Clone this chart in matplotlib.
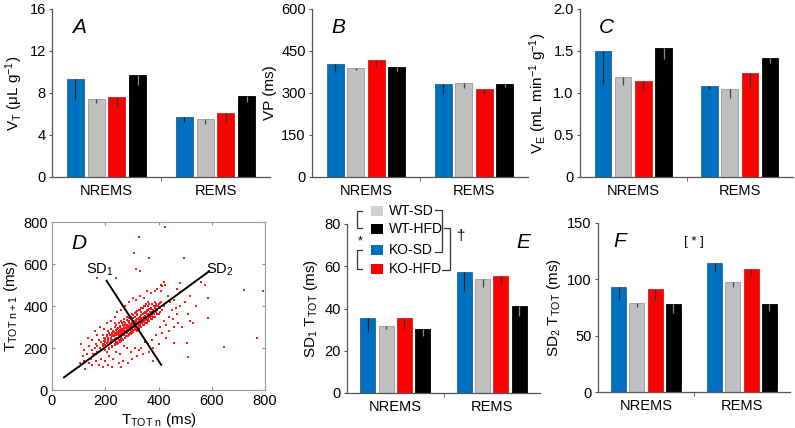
import matplotlib
matplotlib.use("Agg")
import matplotlib.pyplot as plt
from matplotlib.lines import Line2D
from matplotlib.patches import Rectangle

plt.rcParams['font.family'] = ['Liberation Sans', 'DejaVu Sans']
plt.rcParams['mathtext.fontset'] = 'custom'
plt.rcParams['mathtext.rm'] = 'Liberation Sans'
plt.rcParams['mathtext.it'] = 'Liberation Sans:italic'

# ---------------- data ----------------
states = ['NREMS', 'REMS']
groups = ['KO-SD', 'WT-SD', 'KO-HFD', 'WT-HFD']
group_colors = ['#0070C0', '#C0C0C0', '#FF0000', '#000000']
group_edges = ['#2a5f95', '#999999', '#cc2020', '#000000']
err_colors = ['#222222', '#444444', '#333333', '#888888']

# A: tidal volume (uL/g)
vt_nrems = [9.30, 7.46, 7.62, 9.71]
vt_rems = [5.68, 5.52, 6.06, 7.71]
vt_err_nrems = [1.90, 0.41, 0.82, 0.98]
vt_err_rems = [0.41, 0.44, 0.79, 0.54]

# B: VP (ms)
vp_nrems = [402, 389, 419, 392]
vp_rems = [331, 334, 315, 333]
vp_err_nrems = [28, 8, 27, 15]
vp_err_rems = [33, 15, 20, 12]

# C: minute ventilation (mL/min/g)
ve_nrems = [1.496, 1.19, 1.14, 1.53]
ve_rems = [1.087, 1.05, 1.24, 1.42]
ve_err_nrems = [0.39, 0.09, 0.12, 0.13]
ve_err_rems = [0.04, 0.11, 0.17, 0.06]

# E: SD1 Ttot (ms)
sd1_nrems = [35.3, 31.6, 35.3, 30.5]
sd1_rems = [57.1, 54.2, 55.2, 41.1]
sd1_err_nrems = [6.4, 1.1, 4.8, 3.6]
sd1_err_rems = [8.7, 4.2, 4.2, 4.7]

# F: SD2 Ttot (ms)
sd2_nrems = [93.0, 78.7, 91.8, 77.8]
sd2_rems = [114.3, 98.0, 109.0, 78.4]
sd2_err_nrems = [10.7, 3.0, 10.1, 8.0]
sd2_err_rems = [6.8, 4.4, 6.0, 6.5]

# D: Poincare plot points (Ttot n, Ttot n+1) in ms
poincare_x = [
    180, 185, 190, 195, 200, 200, 205, 210, 210, 215, 215, 220, 220, 220, 225, 225,
    230, 230, 235, 235, 240, 240, 240, 245, 245, 250, 250, 250, 255, 255, 260, 260, 260,
    265, 265, 270, 270, 270, 270,
    275, 275, 280, 280, 280, 280, 285, 285, 290, 290, 290, 295, 295, 300, 300, 300, 300,
    305, 305, 310, 310, 310, 315, 315, 320, 320, 320, 320,
    325, 325, 330, 330, 330, 335, 335, 340, 340, 340, 345, 345, 350, 350, 350, 355, 355,
    360, 360, 360, 365, 365, 370, 370, 370,
    375, 375, 380, 380, 385, 385, 390, 390, 395, 400, 400, 405, 410, 415, 420,
    150, 160, 165, 170, 175, 160, 170, 185, 190, 195, 205, 210, 200, 230, 235,
    245, 255, 265, 275, 285, 295, 305, 315, 325, 335, 345, 355, 365, 262, 278, 292, 308,
    322, 338, 352, 368, 382, 248, 258, 288, 298, 312, 328, 342, 358, 372, 392, 218, 228,
    190, 195, 200, 205, 210, 212, 218, 222, 228, 232, 238, 242, 248, 252, 258, 262, 268,
    272, 278, 282, 288, 292, 298, 302, 308, 312, 318, 322, 328, 332, 338, 342, 348, 352,
    358, 362, 368, 372, 378, 382, 388, 392, 398, 404,
    200, 208, 216, 224, 232, 240, 248, 256, 264, 272, 280, 288, 296, 304, 312, 320, 328,
    336, 344, 352, 360,
    215, 225, 235, 245, 255, 265, 275, 285, 295, 305, 315, 325, 335, 345, 355, 365, 375,
    385, 395, 405,
    240, 250, 260, 270, 280, 290, 300, 310, 320, 330, 340, 350, 360, 370, 380, 390, 260,
    275, 290, 305, 320, 335, 300, 315, 330, 345, 360, 375, 255, 245, 235, 225,
    100, 105, 110, 115, 120, 120, 125, 130, 135, 140, 140, 145, 150, 150, 155, 160, 165,
    170, 175, 180, 185, 190, 195, 200, 205, 210, 215, 220, 225, 230, 235, 240, 245, 250,
    255, 260, 265, 270, 275, 280, 285, 290, 295, 300, 305, 310, 315, 320, 325, 330, 335,
    340, 345, 350, 355, 360, 365, 370, 375, 380, 385, 390, 395, 400, 405, 410, 415, 420,
    425, 430, 435, 440, 445, 450, 455, 460, 465, 470, 475, 480, 490, 500, 510, 520, 440,
    460, 430,
    363, 426, 326, 309, 363, 497, 317, 332, 169, 240, 410, 420, 414, 558, 573, 722, 791,
    769, 587, 587, 646, 528, 506, 512, 458, 380, 260, 540, 520, 470, 480]
poincare_y = [
    200, 230, 210, 250, 190, 230, 260, 215, 240, 200, 270, 230, 250, 290, 210, 260,
    240, 280, 220, 300, 250, 270, 310, 230, 290, 260, 280, 320, 240, 300, 270, 250, 330,
    290, 310, 260, 280, 300, 340,
    250, 320, 270, 290, 310, 350, 280, 330, 260, 300, 320, 290, 340, 270, 300, 310, 360,
    280, 330, 290, 300, 350, 320, 370, 280, 300, 340, 360,
    310, 330, 300, 350, 380, 320, 340, 310, 360, 390, 330, 350, 320, 370, 400, 340, 380,
    330, 360, 400, 350, 410, 340, 370, 390,
    360, 410, 380, 350, 390, 420, 370, 400, 380, 410, 360, 390, 420, 380, 400,
    190, 200, 220, 180, 240, 170, 210, 190, 260, 220, 180, 280, 250, 260, 320,
    265, 275, 285, 295, 305, 315, 325, 335, 345, 355, 365, 375, 385, 242, 258, 272, 288,
    302, 318, 332, 348, 362, 225, 235, 268, 282, 292, 308, 322, 338, 352, 372, 225, 238,
    220, 235, 215, 225, 230, 250, 222, 240, 235, 255, 245, 262, 250, 270, 262, 280, 272,
    292, 282, 300, 292, 310, 302, 320, 312, 330, 322, 340, 332, 348, 342, 360, 352, 368,
    362, 380, 372, 388, 382, 398, 392, 410, 402, 415,
    240, 258, 262, 270, 278, 286, 294, 304, 318, 324, 334, 342, 350, 358, 366, 374, 382,
    392, 398, 410, 418,
    195, 205, 212, 218, 228, 240, 246, 258, 265, 275, 285, 292, 300, 310, 318, 328, 338,
    350, 362, 372,
    230, 240, 255, 265, 275, 285, 290, 305, 315, 325, 335, 345, 355, 365, 375, 385, 290,
    310, 330, 345, 355, 370, 280, 300, 310, 325, 340, 355, 285, 275, 265, 255,
    110, 130, 220, 160, 140, 190, 100, 170, 250, 130, 210, 150, 120, 240, 170, 280, 140,
    260, 120, 300, 150, 110, 290, 140, 320, 120, 160, 330, 110, 150, 350, 180, 370, 130,
    170, 380, 140, 210, 400, 200, 130, 420, 180, 150, 440, 200, 430, 160, 190, 450, 200,
    170, 440, 230, 470, 220, 180, 460, 240, 200, 470, 260, 480, 220, 300, 470, 270, 330,
    500, 310, 450, 350, 420, 380, 340, 430, 390, 360, 320, 400, 300, 420, 360, 330, 280,
    300, 250,
    800, 776, 728, 652, 627, 627, 578, 565, 533, 533, 500, 515, 493, 514, 501, 477, 473,
    249, 436, 344, 206, 317, 225, 159, 225, 140, 110, 400, 450, 480, 510]

sd2_line_x = [45, 590]
sd2_line_y = [60, 565]
sd1_line_x = [205, 410]
sd1_line_y = [520, 120]

# ---------------- plotting ----------------
W, H = 795, 428
fig = plt.figure(figsize=(W / 100, H / 100), dpi=100)

def fr(left, right, top, bottom):
    return [left / W, (H - bottom) / H, (right - left) / W, (bottom - top) / H]

spine_col = '#555555'
tick_fs = 10.5
lab_fs = 11

def bar_panel(rect, nrems, rems, err_n, err_r, ymax, yticks, yticklabels, ylabel, letter,
              letter_xy=(0.1, 0.9)):
    ax = fig.add_axes(rect)
    width = 0.155
    step = 0.19
    for i in range(4):
        xs = [1 + (i - 1.5) * step, 2 + (i - 1.5) * step]
        vals = [nrems[i], rems[i]]
        errs = [err_n[i], err_r[i]]
        ax.bar(xs, vals, width=width, color=group_colors[i], edgecolor=group_edges[i],
               linewidth=0.6, zorder=2)
        ax.errorbar(xs, vals, yerr=[errs, [0, 0]], fmt='none', ecolor=err_colors[i],
                    elinewidth=0.9, capsize=0, zorder=3)
    ax.set_xlim(0.5, 2.5)
    ax.set_ylim(0, ymax)
    ax.set_xticks([1, 2])
    ax.set_xticklabels(states, fontsize=tick_fs)
    ax.set_xticks([1.5], minor=True)
    ax.tick_params(axis='x', which='major', length=0, pad=5)
    ax.tick_params(axis='x', which='minor', length=3, color=spine_col)
    ax.set_yticks(yticks)
    ax.set_yticklabels(yticklabels, fontsize=tick_fs)
    ax.tick_params(axis='y', length=2.5, color=spine_col, pad=2)
    for s in ['top', 'right']:
        ax.spines[s].set_visible(False)
    for s in ['left', 'bottom']:
        ax.spines[s].set_color(spine_col)
        ax.spines[s].set_linewidth(0.9)
    ax.set_ylabel(ylabel, fontsize=lab_fs, labelpad=3)
    ax.text(letter_xy[0], letter_xy[1], letter, transform=ax.transAxes, fontsize=15,
            style='italic', ha='left', va='center')
    return ax

axA = bar_panel(fr(52, 270, 9, 177), vt_nrems, vt_rems, vt_err_nrems, vt_err_rems, 16,
                [0, 4, 8, 12, 16], ['0', '4', '8', '12', '16'],
                r'V$_\mathregular{T}$ ($\mathregular{\mu}$L g$^\mathregular{-1}$)', 'A',
                (0.09, 0.89))
axB = bar_panel(fr(312, 528, 9, 177), vp_nrems, vp_rems, vp_err_nrems, vp_err_rems, 600,
                [0, 150, 300, 450, 600], ['0', '150', '300', '450', '600'],
                'VP (ms)', 'B', (0.09, 0.89))
axC = bar_panel(fr(580, 793, 9, 177), ve_nrems, ve_rems, ve_err_nrems, ve_err_rems, 2.0,
                [0, 0.5, 1.0, 1.5, 2.0], ['0', '0.5', '1.0', '1.5', '2.0'],
                r'V$_\mathregular{E}$ (mL min$^\mathregular{-1}$ g$^\mathregular{-1}$)', 'C',
                (0.09, 0.89))
axE = bar_panel(fr(347, 540, 224, 393), sd1_nrems, sd1_rems, sd1_err_nrems, sd1_err_rems, 80,
                [0, 20, 40, 60, 80], ['0', '20', '40', '60', '80'],
                r'SD$_\mathregular{1}$ T$_\mathregular{TOT}$ (ms)', 'E', (0.88, 0.89))
axF = bar_panel(fr(598, 790, 223, 392), sd2_nrems, sd2_rems, sd2_err_nrems, sd2_err_rems, 150,
                [0, 50, 100, 150], ['0', '50', '100', '150'],
                r'SD$_\mathregular{2}$ T$_\mathregular{TOT}$ (ms)', 'F', (0.08, 0.89))
axF.text(0.5, 0.89, '[ * ]', transform=axF.transAxes, fontsize=9.5, ha='center', va='center')

# Legend in E (above/inside axes)
leg_y = [1.077, 0.970, 0.846, 0.734]
leg_order = [1, 3, 0, 2]  # WT-SD, WT-HFD, KO-SD, KO-HFD
for yy, gi in zip(leg_y, leg_order):
    axE.add_patch(Rectangle((0.122, yy - 0.03), 0.065, 0.06, transform=axE.transAxes,
                            facecolor=group_colors[gi] if gi != 1 else '#D0D0D0',
                            edgecolor='none', clip_on=False))
    axE.text(0.215, yy, groups[gi], transform=axE.transAxes, fontsize=10, ha='left',
             va='center')
bc = '#333333'
lw = 0.9
def seg(xs, ys):
    axE.add_line(Line2D(xs, ys, transform=axE.transAxes, color=bc, lw=lw, clip_on=False))
# left brackets
seg([0.08, 0.052, 0.052, 0.08], [1.077, 1.077, 0.975, 0.975])
seg([0.08, 0.052, 0.052, 0.08], [0.846, 0.846, 0.734, 0.734])
axE.text(0.07, 0.895, '*', transform=axE.transAxes, fontsize=9, ha='center', va='center')
# right brackets
seg([0.455, 0.49, 0.49, 0.455], [1.082, 1.082, 0.835, 0.835])
seg([0.505, 0.535, 0.535, 0.49], [0.975, 0.975, 0.725, 0.725])
axE.text(0.59, 0.93, '\u2020', transform=axE.transAxes, fontsize=11, ha='center', va='center')

# D: Poincare plot
axD = fig.add_axes(fr(52, 265, 222, 390))
axD.scatter(poincare_x, poincare_y, s=3.5, marker='s', color='#FF1A1A', linewidths=0,
            zorder=2)
axD.plot(sd2_line_x, sd2_line_y, color='black', lw=1.4, zorder=3)
axD.plot(sd1_line_x, sd1_line_y, color='black', lw=1.4, zorder=3)
axD.text(180, 571, r'SD$_\mathregular{1}$', fontsize=10.5, ha='center', va='center')
axD.text(631, 571, r'SD$_\mathregular{2}$', fontsize=10.5, ha='center', va='center')
axD.set_xlim(0, 800)
axD.set_ylim(0, 800)
axD.set_xticks([0, 200, 400, 600, 800])
axD.set_yticks([0, 200, 400, 600, 800])
axD.tick_params(direction='in', length=2.5, top=True, right=True, labelsize=tick_fs,
                color='#888888', pad=3)
for s in axD.spines.values():
    s.set_color('#999999')
    s.set_linewidth(0.8)
axD.set_xlabel(r'T$_\mathregular{TOT\ n}$ (ms)', fontsize=lab_fs, labelpad=2)
axD.set_ylabel(r'T$_\mathregular{TOT\ n+1}$ (ms)', fontsize=lab_fs, labelpad=2)
axD.text(0.09, 0.87, 'D', transform=axD.transAxes, fontsize=15, style='italic',
         ha='left', va='center')

fig.savefig('out.png', dpi=100)
